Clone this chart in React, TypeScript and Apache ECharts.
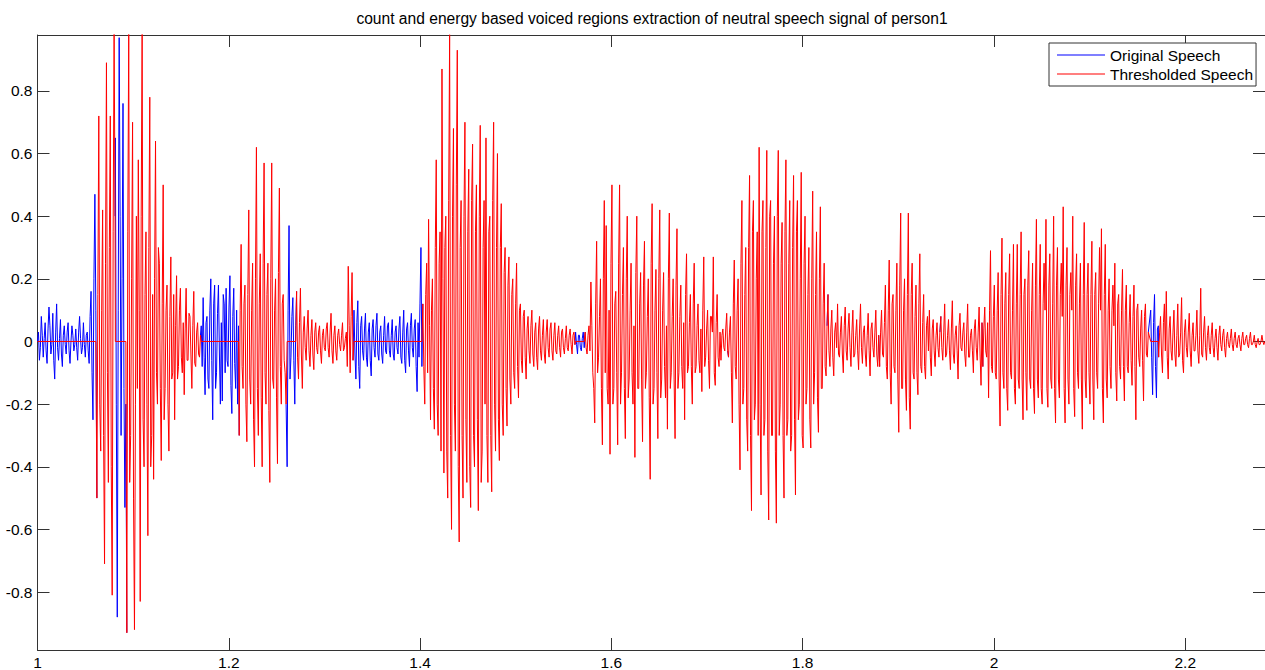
import React, { useEffect, useRef } from "react";
import * as echarts from "echarts";

// sample spacing (seconds) of the hand-read waveform samples
const DT = 0.001;

// Values are in hundredths of the amplitude, read / estimated from the picture.
const u1Start = 1.0;
const u1 = [0, 3, -6, -2, 8, 2, -5, 1, 6, -3, -7, 4, 11, 5, -4, -1, 9, -6, -12, 3, 12, -2, -6, 1, 7, -4, -8, 2, 5, -1, -4, 3, 6, -3, -7, 0, 5, 2, -3, -1, 4, -2, -6, 3, 8, 1, -4, -2, 6, -1, -5, 2, 3, -3, -7, 8, 16, -10, -25, 20, 47, 10];
const v1Start = 1.0621;
const v1 = [-50, 15, 72, -20, -35, 10, 42, -30, -71, 25, 89, -10, -45, 30, 72, -40, -81, 35, 100, 40];
const u2Start = 1.0814;
const u2 = [65, -20, -88, 10, 97, 40, -30, 20, 76, -15, -53, -20];
const v2Start = 1.0934;
const v2 = [-93, 35, 100, -45, -30, 20, 70, -50, -92, -20, 40, -15, 58, 10, -83, 40, 100, -25, -40, 15, 35, -20, -62, 30, 78, -40, -30, 15, -44, 20, 64, -10, -20, 30, 25, -15, -38, 12, 50, -25, -15, 10, 18, -20, -35, 8, 27, -12, -10, 15, -25, 5, 21, -12, -8, 10, 17, -5, -10, 6, -17, 4, 17, -6, -6, 9, 8, -4, -15, 5, 16, -7, -8, 3, 6, -4, -5, 2];
const u3Start = 1.1712;
const u3 = [5, -8, 14, -5, -17, 6, 8, -12, -15, 10, 20, -6, -25, 12, 18, -15, -10, 9, 18, -4, -20, 6, -19, 15, 12, -10, 17, -6, -8, 11, 21, -14, -23, 8, 17, -7, -15, 10, -20, 5];
const v3Start = 1.2109;
const v3 = [-30, 10, 31, -8, -15, 12, 18, -20, -32, 15, 42, -12, -20, 10, 25, -25, -40, 20, 62, -15, -30, 12, 28, -18, -40, 25, 57, -10, -20, 15, 25, -22, -45, 20, 57, -12, -15, 10, 20, -18, -39, 22, 49, -8, -20, 12, 15, -6, -10, -20];
const u4Start = 1.261;
const u4 = [-40, 10, 37, -12, -5, 8, 14, -6, -20, 5];
const v4Start = 1.2709;
const v4 = [16, -5, -12, 6, 17, -4, -15, 3, 8, -2, -6, 4, 10, -3, -8, 2, 7, -4, -9, 3, 6, -2, -4, 3, 5, -3, -7, 2, 4, -2, -3, 4, 6, -2, -5, 3, 9, -3, -7, 2, 5, -3, -6, 2, 4, -1, -3, 2, 6, -3, -2, 1, 3, -8, 24, 5, -10, 8, 22, -6];
const u5Start = 1.3309;
const u5 = [10, -4, -12, 6, 13, -8, -15, 5, 8, -3, -6, 4, 9, -5, -8, 3, 6, -6, -11, 4, 7, -2, -5, 5, 9, -4, -6, 3, 5, -4, -7, 2, 8, -3, -4, 5, 6, -3, -5, 2, 7, -4, -6, 3, 5, -2, -4, 4, 8, -5, -7, 3, 10, -6, -10, 4, 6, -3, -8, 5, 9, -2, -5, 4, 7, -8, -16, 6, -5, 12, 30, -8];
const v5Start = 1.4029;
const v5 = [12, -8, -20, 15, 25, -10, 39, 5, -25, 10, 20, -15, -28, 30, 58, -20, -30, 25, 35, -35,
  87, 20, -42, 30, 40, -35, -50, 45, 98, -30, -60, 40, 68, -20, -35, 50, 93, -40, -64, 30,
  45, -30, -50, 40, 70, -25, -45, 35, 55, -40, -53, 45, 63, -30, -40, 35, 50, -25, -54, 40,
  69, -45, -35, 30, 45, -20, 65, -30, -45, 35, 40, -30, -48, 45, 70, -20, -35, 30, 60, -25,
  -38, 30, 44, -20, -30, 22, 30, -15, -27, 18, 27, -12, -20, 15, 20, -10, -15, 12, 25, -8,
  -18, 10, 12, -6, -10, 8, 10, -5, -12, 4, 8, -3, -7, 5, 10, -4, -8, 3, 6, -5,
  -9, 4, 8, -3, -6, 2, 7, -4, -7, 3, 7, -2, -5, 4, 6, -3, -6, 2, 6, -3,
  -4, 2, 5, -2, -5, 3, 4, -2, -4, 1, 5, -2, -3, 2, 4, -1, -4, 2, 3, -1];
const u6Start = 1.5626;
const u6 = [3, -1, -4, 2, 2, -2, -3, 1, 3, -2];
const burstAStart = 1.5726;
const burstA = [3, -2, -4, 2, 5, -3, 19, 5, -10, -15, -26, 12, 32, -10, -5, 8, 20, -15, -33, 20,
  45, -10, 37, -15, -20, 10, -36, 25, 50, -20, -15, 12, 16, -10, -33, 25, 50, -20, -10, 15,
  30, -15, -31, 20, 40, -18, -12, 10, 25, -10, -20, 5, -37, 22, 40, -15, -15, 12, 22, -12,
  -32, 18, 32, -15, -10, 8, 20, -18, -44, 25, 44, -20, -15, 10, 23, -10, -31, 20, 42, -18,
  -12, 10, 22, -8, -18, 5, -28, 20, 41, -15, -10, 8, 20, -12, -31, 18, 36, -15, -10, 8,
  18, -8, -15, 6, -25, 15, 28, -10, -8, 6, 15, -8, -20, 12, 25, -10, -8, 5, 12, -6,
  -10, 4, -16, 10, 27, -8, -5, 4, 10, -6, -15, 8, 8, 3, 27, -10, -14, 6, 15, -5,
  -8, 3, -6, 2, 4, -2, -3, 4, 9, -3];
const burstBStart = 1.7225;
const burstB = [-5, 3, 8, -10, -26, 12, 26, -8, -12, 10, 20, -20, -41, 25, 45, -20, -15, 15, 30, -25,
  -35, 30, 53, -30, -54, 35, 45, -25, -20, 20, 35, -30, 62, -20, -49, 35, 45, -30, -25, 30,
  61, -35, -57, 40, 45, -30, -30, 25, 40, -35, -58, 40, 61, -30, -20, 25, 38, -30, -50, 35,
  58, -30, -25, 25, 45, -35, -30, 30, 53, -25, -49, 35, 45, -25, -20, 20, 54, -30, -34, 25,
  40, -20, -15, 15, 30, -25, -34, 20, 48, -20, -10, 15, 35, -18, -29, 20, 43, -15, -15, 12,
  25, -8, -11, 5];
const gapBCStart = 1.8265;
const gapBC = [15, -3, -8, 4, 10, -5, -11, 3, 6, -2, 12, -4, -5, 3, 8, -4, -10, 5, 11, -3, -6, 4, 9, -2, -8, 3, 10, -5, -4, 2, 7, -3, -9, 4, 12, -2, -7, 3, 5, -4, -8, 2, 9, -3, -11, 4, 6, -2, -5, 3, 10, -4, -8, 2];
const burstCStart = 1.8805;
const burstC = [-8, 3, 10, -4, -5, 6, 18, -8, -12, 10, 26, -10, -20, 12, 15, -8, -10, 10, 25, -12,
  -29, 18, 41, -15, -15, 10, 20, -12, -22, 15, 41, -18, -28, 15, 25, -10, -12, 8, 18, -10,
  -17, 12, 28, -8, -10, 6, 15, -8, -12, 5, 8, -3, 10, -5, -11, 4, 7, -3, -8, 2,
  6, -2, -5, 3];
const gapCDStart = 1.9445;
const gapCD = [8, -2, -6, 3, 12, -5, -4, 2, 7, -3, -9, 4, 13, -4, -7, 2, 5, -3, -12, 5, 9, -2, -3, 3, 6, -4, -8, 3, 12, -5, -5, 2, 4, -3, -10, 4, 7, -2, -6, 3, 11, -4, -14, 6];
const burstDStart = 1.9884;
const burstD = [-8, 4, 11, -3, -5, 6, -18, 10, 29, -8, -10, 8, 18, -10, -12, 10, 22, -12, -27, 15,
  33, -10, -15, 12, 22, -15, -22, 15, 28, -10, -12, 10, 31, -15, -20, 12, 31, -12, -15, 15,
  35, -12, -25, 15, 20, -10, -22, 18, 29, -12, -15, 10, 25, -15, -23, 18, 39, -12, -18, 15,
  31, -15, -20, 12, 25, 10, 39, -15, -21, 18, 28, -12, -15, 12, 40, -15, -26, 18, 30, -12,
  -18, 15, 25, 8, 43, -15, -26, 18, 30, -12, -20, 15, 22, 10, 40, -15, -24, 18, 28, -10,
  -15, 12, 25, -12, -28, 15, 38, -12, -18, 15, 25, -10, -20, 15, 32, -12, -25, 15, 22, -10,
  -15, 12, 30, 10, 36, -15, -26, 15, 31, -12, -18, 10, 20, -8, -15, 10, 18, 5, 25, -10,
  -19, 12, 15, -8, -12, 10, 23, -8, -19, 10, 18, -8, -10, 6, 15, -6, -14, 8, 18, -8,
  -25, 10, 12, -5, -8, 4, 10, -6, -19, 8, 12, -4, -5, 3];
const u7Start = 2.1639;
const u7 = [10, -5, -17, 6, 15, -8, -18, 4, 5];
const tailStart = 2.1722;
const tail = [-5, 3, 8, -4, -10, 6, 12, -3, 16, -5, -12, 4, 8, -3, -6, 3, 10, -4, -8, 2,
  12, -5, -4, 3, 14, -6, -10, 3, 7, -2, -5, 3, 9, -3, -8, 2, 6, -3, -3, 2,
  10, -3, -7, 2, 17, -4, -5, 3, 8, -2, -6, 2, 5, -2, -4, 2, 6, -2, -5, 1,
  4, -2, -6, 2, 5, -1, -3, 2, 4, -2, -5, 1, 3, -1, -2, 1, 4, -1, -3, 1,
  3, -1, -2, 1, 2, -1, -3, 1, 3, -1, -1, 1, 2, -1, -2, 1, 3, -1, -1, 0,
  2, -1, -2, 0, 1, -1, -1, 0, 2, 0, -1, 0];

const xTicks = [1, 1.2, 1.4, 1.6, 1.8, 2, 2.2];
const yTicks = [-0.8, -0.6, -0.4, -0.2, 0, 0.2, 0.4, 0.6, 0.8];
const seriesNames = ["Original Speech", "Thresholded Speech"];
const titleText = "count and energy based voiced regions extraction of neutral speech signal of person1";

const segments: { start: number; vals: number[]; voiced: boolean }[] = [
  { start: u1Start, vals: u1, voiced: false },
  { start: v1Start, vals: v1, voiced: true },
  { start: u2Start, vals: u2, voiced: false },
  { start: v2Start, vals: v2, voiced: true },
  { start: u3Start, vals: u3, voiced: false },
  { start: v3Start, vals: v3, voiced: true },
  { start: u4Start, vals: u4, voiced: false },
  { start: v4Start, vals: v4, voiced: true },
  { start: u5Start, vals: u5, voiced: false },
  { start: v5Start, vals: v5, voiced: true },
  { start: u6Start, vals: u6, voiced: false },
  { start: burstAStart, vals: burstA, voiced: true },
  { start: burstBStart, vals: burstB, voiced: true },
  { start: gapBCStart, vals: gapBC, voiced: true },
  { start: burstCStart, vals: burstC, voiced: true },
  { start: gapCDStart, vals: gapCD, voiced: true },
  { start: burstDStart, vals: burstD, voiced: true },
  { start: u7Start, vals: u7, voiced: false },
  { start: tailStart, vals: tail, voiced: true },
];

// The original signal is visible where the thresholded one is zero; in voiced
// stretches it lies exactly under the red trace, so only its edge samples are kept.
function buildData() {
  const original: (number | null)[][] = [];
  const thresholded: number[][] = [];
  for (const s of segments) {
    const pts = s.vals.map((v, i) => [+(s.start + i * DT).toFixed(5), v / 100]);
    if (s.voiced) {
      thresholded.push(...pts);
      original.push(pts[0], [pts[0][0], null], pts[pts.length - 1]);
    } else {
      original.push(...pts);
      thresholded.push([pts[0][0], 0], [pts[pts.length - 1][0], 0]);
    }
  }
  return { original, thresholded };
}

const FONT = "'Liberation Sans', Arial, sans-serif";
const AXIS_COLOR = "#333";

export default function App() {
  const ref = useRef<HTMLDivElement>(null);
  useEffect(() => {
    if (!ref.current) return;
    const chart = echarts.init(ref.current, undefined, { renderer: "svg" });
    const { original, thresholded } = buildData();
    const xMin = 1, xMax = 2.2834, yMin = -0.985, yMax = 0.9785;
    const tickCommon = { show: true, inside: true, length: 12, lineStyle: { color: AXIS_COLOR } };
    const lineCommon = { show: true, onZero: false, lineStyle: { color: AXIS_COLOR } };
    chart.setOption({
      animation: false,
      backgroundColor: "#fff",
      title: {
        text: titleText,
        left: 652,
        top: 10,
        textAlign: "center",
        padding: 0,
        textStyle: { fontFamily: FONT, fontSize: 15.6, fontWeight: "normal", color: "#000" },
      },
      legend: {
        data: seriesNames,
        orient: "vertical",
        left: 1049,
        top: 43,
        padding: [4, 3, 4, 8],
        itemGap: 3,
        itemWidth: 48,
        itemHeight: 1.2,
        icon: "rect",
        backgroundColor: "#fff",
        borderColor: AXIS_COLOR,
        borderWidth: 1,
        borderRadius: 0,
        textStyle: { fontFamily: FONT, fontSize: 15.5, color: "#000", lineHeight: 16 },
      },
      grid: { left: 37.5, top: 35, width: 1229.5, height: 616 },
      xAxis: [
        {
          type: "value", min: xMin, max: xMax, position: "bottom",
          axisLine: lineCommon,
          axisTick: { ...tickCommon, customValues: xTicks },
          axisLabel: { customValues: xTicks, margin: 4, fontFamily: FONT, fontSize: 15.5, color: "#000" },
          splitLine: { show: false },
        },
        {
          type: "value", min: xMin, max: xMax, position: "top",
          axisLine: lineCommon,
          axisTick: { ...tickCommon, customValues: xTicks },
          axisLabel: { show: false },
          splitLine: { show: false },
        },
      ],
      yAxis: [
        {
          type: "value", min: yMin, max: yMax, position: "left",
          axisLine: lineCommon,
          axisTick: { ...tickCommon, customValues: yTicks },
          axisLabel: { customValues: yTicks, margin: 5, fontFamily: FONT, fontSize: 15.5, color: "#000" },
          splitLine: { show: false },
        },
        {
          type: "value", min: yMin, max: yMax, position: "right",
          axisLine: lineCommon,
          axisTick: { ...tickCommon, customValues: yTicks },
          axisLabel: { show: false },
          splitLine: { show: false },
        },
      ],
      series: [
        {
          name: seriesNames[0], type: "line", data: original, xAxisIndex: 0, yAxisIndex: 0,
          symbol: "none", clip: true, silent: true, connectNulls: false,
          lineStyle: { color: "#0000ff", width: 1 }, itemStyle: { color: "#0000ff" },
        },
        {
          name: seriesNames[1], type: "line", data: thresholded, xAxisIndex: 0, yAxisIndex: 0,
          symbol: "none", clip: true, silent: true,
          lineStyle: { color: "#ff0000", width: 1 }, itemStyle: { color: "#ff0000" },
        },
      ],
    });
    return () => chart.dispose();
  }, []);
  return (
    <div
      ref={ref}
      style={{ position: "fixed", left: 0, top: 0, width: "1265px", height: "670px", background: "#fff" }}
    />
  );
}
